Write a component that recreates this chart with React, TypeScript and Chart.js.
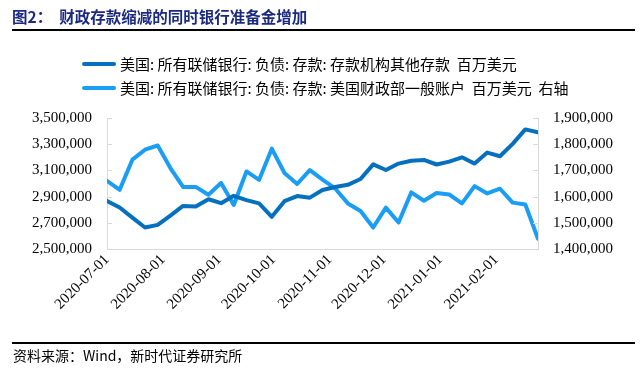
import React, { useEffect, useRef } from "react";
import { Chart, registerables } from "chart.js";

Chart.register(...registerables);

// Weekly observation dates (Wednesdays)
const dates = [
  "2020-07-01", "2020-07-08", "2020-07-15", "2020-07-22", "2020-07-29",
  "2020-08-05", "2020-08-12", "2020-08-19", "2020-08-26",
  "2020-09-02", "2020-09-09", "2020-09-16", "2020-09-23", "2020-09-30",
  "2020-10-07", "2020-10-14", "2020-10-21", "2020-10-28",
  "2020-11-04", "2020-11-11", "2020-11-18", "2020-11-25",
  "2020-12-02", "2020-12-09", "2020-12-16", "2020-12-23", "2020-12-30",
  "2021-01-06", "2021-01-13", "2021-01-20", "2021-01-27",
  "2021-02-03", "2021-02-10", "2021-02-17", "2021-02-24",
];

// 美国:所有联储银行:负债:存款:存款机构其他存款 (百万美元, left axis)
const otherDeposits = [
  2867000, 2817000, 2740000, 2664000, 2684000,
  2755000, 2829000, 2824000, 2880000,
  2850000, 2906000, 2873000, 2848000, 2746000,
  2865000, 2904000, 2892000, 2950000,
  2973000, 2990000, 3034000, 3146000,
  3103000, 3152000, 3174000, 3180000, 3145000,
  3167000, 3200000, 3152000, 3236000,
  3208000, 3303000, 3413000, 3390000,
];

// 美国:所有联储银行:负债:存款:美国财政部一般账户 (百万美元, right axis)
const treasuryGeneral = [
  1660000, 1626000, 1741000, 1779000, 1795000,
  1709000, 1637000, 1637000, 1607000,
  1652000, 1568000, 1696000, 1664000, 1783000,
  1690000, 1648000, 1701000, 1665000,
  1631000, 1574000, 1545000, 1482000,
  1558000, 1501000, 1616000, 1584000, 1614000,
  1608000, 1574000, 1640000, 1612000,
  1630000, 1577000, 1570000, 1439000,
];

const monthTicks = [
  "2020-07-01", "2020-08-01", "2020-09-01", "2020-10-01",
  "2020-11-01", "2020-12-01", "2021-01-01", "2021-02-01",
];

const leftMin = 2500000;
const leftMax = 3500000;
const leftStep = 200000;
const rightMin = 1400000;
const rightMax = 1900000;
const rightStep = 100000;

const seriesNames = [
  "美国: 所有联储银行: 负债: 存款: 存款机构其他存款  百万美元",
  "美国: 所有联储银行: 负债: 存款: 美国财政部一般账户  百万美元  右轴",
];

const titleText = "图2：  财政存款缩减的同时银行准备金增加";
const sourceText = "资料来源：Wind，新时代证券研究所";

const DARK = "#0570BE";
const LIGHT = "#1A9DF4";
const AXIS = "#D9D9D9";

const dayOf = (d: string) => {
  const [y, m, dd] = d.split("-").map(Number);
  const [y0, m0, d0] = dates[0].split("-").map(Number);
  return (Date.UTC(y, m - 1, dd) - Date.UTC(y0, m0 - 1, d0)) / 86400000;
};

const innerTicks = {
  id: "innerTicks",
  afterDraw(chart: any) {
    const ctx = chart.ctx;
    const a = chart.chartArea;
    ctx.save();
    ctx.strokeStyle = AXIS;
    ctx.lineWidth = 1;
    const yl = chart.scales.y;
    const yr = chart.scales.y1;
    yl.ticks.forEach((t: any) => {
      const p = Math.round(yl.getPixelForValue(t.value)) + 0.5;
      ctx.beginPath();
      ctx.moveTo(a.left, p);
      ctx.lineTo(a.left + 5, p);
      ctx.stroke();
    });
    yr.ticks.forEach((t: any) => {
      const p = Math.round(yr.getPixelForValue(t.value)) + 0.5;
      ctx.beginPath();
      ctx.moveTo(a.right - 5, p);
      ctx.lineTo(a.right, p);
      ctx.stroke();
    });
    ctx.restore();
  },
};

function ChartCanvas() {
  const ref = useRef<HTMLCanvasElement | null>(null);
  useEffect(() => {
    if (!ref.current) return;
    const xs = dates.map(dayOf);
    const tickFont = { family: "'Liberation Serif', 'Times New Roman', serif", size: 15 };
    const chart = new Chart(ref.current, {
      type: "line",
      data: {
        datasets: [
          {
            label: seriesNames[0],
            data: otherDeposits.map((v, i) => ({ x: xs[i], y: v })),
            borderColor: DARK,
            backgroundColor: DARK,
            borderWidth: 4,
            pointRadius: 0,
            tension: 0,
            borderJoinStyle: "round",
            borderCapStyle: "round",
            yAxisID: "y",
          },
          {
            label: seriesNames[1],
            data: treasuryGeneral.map((v, i) => ({ x: xs[i], y: v })),
            borderColor: LIGHT,
            backgroundColor: LIGHT,
            borderWidth: 4,
            pointRadius: 0,
            tension: 0,
            borderJoinStyle: "round",
            borderCapStyle: "round",
            yAxisID: "y1",
          },
        ],
      },
      options: {
        animation: false,
        responsive: false,
        maintainAspectRatio: false,
        layout: { padding: { top: 118, left: 0, right: 0, bottom: 0 } },
        plugins: {
          legend: { display: false },
          tooltip: { enabled: false },
          title: { display: false },
        },
        scales: {
          x: {
            type: "linear",
            min: 0,
            max: xs[xs.length - 1],
            afterBuildTicks: (scale: any) => {
              scale.ticks = monthTicks.map((d) => ({ value: dayOf(d) }));
            },
            afterFit: (scale: any) => {
              scale.height = 131;
            },
            grid: { display: false, drawTicks: false },
            border: { display: true, color: AXIS, width: 1 },
            ticks: {
              autoSkip: false,
              maxRotation: 45,
              minRotation: 45,
              padding: 2,
              color: "#000",
              font: tickFont,
              callback: (_v: any, i: number) => monthTicks[i],
            },
          },
          y: {
            type: "linear",
            position: "left",
            min: leftMin,
            max: leftMax,
            afterFit: (scale: any) => {
              scale.width = 107;
            },
            grid: { display: false, drawTicks: false },
            border: { display: true, color: AXIS, width: 1 },
            ticks: {
              stepSize: leftStep,
              padding: 15,
              color: "#000",
              font: tickFont,
              callback: (v: any) => Number(v).toLocaleString("en-US"),
            },
          },
          y1: {
            type: "linear",
            position: "right",
            min: rightMin,
            max: rightMax,
            afterFit: (scale: any) => {
              scale.width = 106;
            },
            grid: { display: false, drawTicks: false },
            border: { display: true, color: AXIS, width: 1 },
            ticks: {
              stepSize: rightStep,
              padding: 15,
              color: "#000",
              font: tickFont,
              callback: (v: any) => Number(v).toLocaleString("en-US"),
            },
          },
        },
      },
      plugins: [innerTicks],
    } as any);
    return () => chart.destroy();
  }, []);
  return (
    <canvas
      ref={ref}
      width={644}
      height={380}
      style={{ position: "absolute", left: 0, top: 0, width: 644, height: 380 }}
    />
  );
}

export default function App() {
  const cjk = "'Noto Sans CJK SC', 'Noto Sans', sans-serif";
  return (
    <div
      style={{
        position: "fixed",
        left: 0,
        top: 0,
        width: 644,
        height: 380,
        background: "#fff",
        overflow: "hidden",
      }}
    >
      <ChartCanvas />
      <div
        style={{
          position: "absolute",
          left: 12,
          top: 6,
          fontFamily: cjk,
          fontWeight: 700,
          fontSize: 15.5,
          lineHeight: "20px",
          color: "#1B2A80",
          whiteSpace: "pre",
        }}
      >
        {titleText}
      </div>
      <div style={{ position: "absolute", left: 12, top: 29, width: 623, height: 2, background: "#000" }} />
      {seriesNames.map((name, i) => (
        <div key={i}>
          <div
            style={{
              position: "absolute",
              left: 82,
              top: 62 + i * 24,
              width: 34,
              height: 4,
              borderRadius: 2,
              background: i === 0 ? DARK : LIGHT,
            }}
          />
          <div
            style={{
              position: "absolute",
              left: 120,
              top: 54 + i * 24,
              fontFamily: cjk,
              fontSize: 15,
              lineHeight: "20px",
              color: "#000",
              whiteSpace: "pre",
            }}
          >
            {name}
          </div>
        </div>
      ))}
      <div style={{ position: "absolute", left: 12, top: 342, width: 623, height: 2, background: "#000" }} />
      <div
        style={{
          position: "absolute",
          left: 13,
          top: 346,
          fontFamily: cjk,
          fontSize: 14,
          lineHeight: "18px",
          color: "#000",
          whiteSpace: "pre",
        }}
      >
        {sourceText}
      </div>
    </div>
  );
}
